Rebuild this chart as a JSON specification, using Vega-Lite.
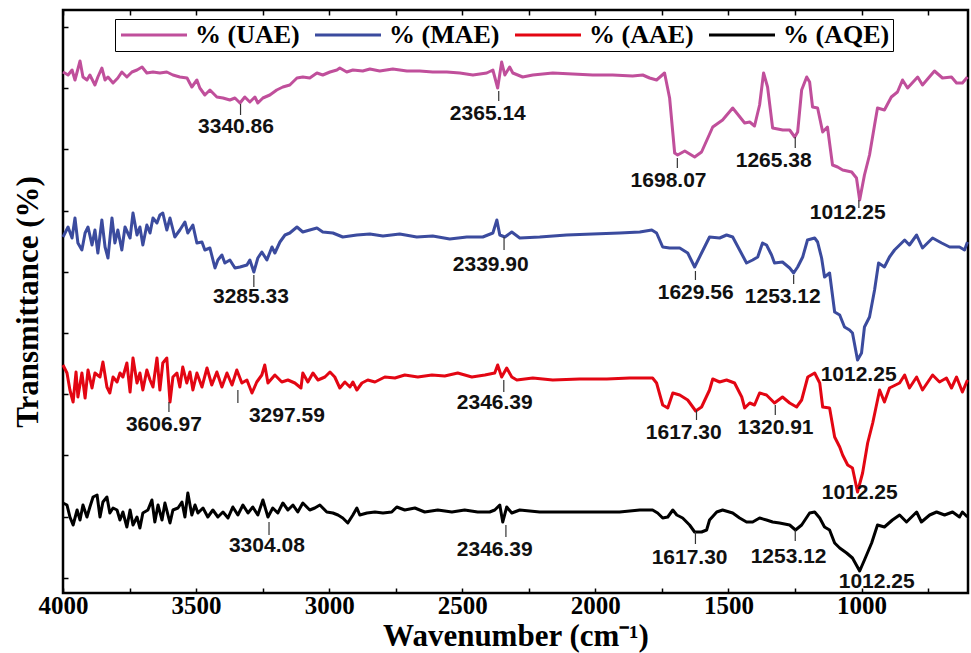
{
"$schema": "https://vega.github.io/schema/vega-lite/v6.json",
"width": 905, "height": 583,
"autosize": {"type": "none"},
"padding": {"left": 63, "top": 10, "right": 3, "bottom": 60},
"background": "white",
"config": {"view": {"stroke": "black", "strokeWidth": 2.5}, "axis": {"grid": false, "domain": false}},
"datasets": {
"spectra": [
{"sample":"UAE","wn":4000,"T":521},{"sample":"UAE","wn":3981,"T":518},{"sample":"UAE","wn":3966,"T":523},{"sample":"UAE","wn":3955,"T":513},{"sample":"UAE","wn":3936,"T":532},{"sample":"UAE","wn":3925,"T":516},{"sample":"UAE","wn":3910,"T":513},{"sample":"UAE","wn":3899,"T":518},{"sample":"UAE","wn":3880,"T":508},{"sample":"UAE","wn":3869,"T":516},{"sample":"UAE","wn":3854,"T":525},{"sample":"UAE","wn":3842,"T":513},{"sample":"UAE","wn":3831,"T":516},{"sample":"UAE","wn":3812,"T":510},{"sample":"UAE","wn":3794,"T":515},{"sample":"UAE","wn":3779,"T":521},{"sample":"UAE","wn":3760,"T":516},{"sample":"UAE","wn":3741,"T":521},{"sample":"UAE","wn":3722,"T":523},{"sample":"UAE","wn":3703,"T":526},{"sample":"UAE","wn":3685,"T":520},{"sample":"UAE","wn":3662,"T":521},{"sample":"UAE","wn":3636,"T":520},{"sample":"UAE","wn":3610,"T":521},{"sample":"UAE","wn":3587,"T":518},{"sample":"UAE","wn":3561,"T":516},{"sample":"UAE","wn":3534,"T":515},{"sample":"UAE","wn":3516,"T":506},{"sample":"UAE","wn":3497,"T":513},{"sample":"UAE","wn":3486,"T":505},{"sample":"UAE","wn":3467,"T":498},{"sample":"UAE","wn":3448,"T":503},{"sample":"UAE","wn":3422,"T":496},{"sample":"UAE","wn":3399,"T":495},{"sample":"UAE","wn":3373,"T":493},{"sample":"UAE","wn":3354,"T":495},{"sample":"UAE","wn":3335,"T":490},{"sample":"UAE","wn":3317,"T":496},{"sample":"UAE","wn":3298,"T":491},{"sample":"UAE","wn":3279,"T":496},{"sample":"UAE","wn":3268,"T":490},{"sample":"UAE","wn":3249,"T":495},{"sample":"UAE","wn":3223,"T":498},{"sample":"UAE","wn":3197,"T":503},{"sample":"UAE","wn":3174,"T":506},{"sample":"UAE","wn":3148,"T":508},{"sample":"UAE","wn":3121,"T":515},{"sample":"UAE","wn":3099,"T":516},{"sample":"UAE","wn":3073,"T":515},{"sample":"UAE","wn":3046,"T":520},{"sample":"UAE","wn":3024,"T":518},{"sample":"UAE","wn":2997,"T":521},{"sample":"UAE","wn":2971,"T":523},{"sample":"UAE","wn":2960,"T":525},{"sample":"UAE","wn":2934,"T":521},{"sample":"UAE","wn":2911,"T":523},{"sample":"UAE","wn":2874,"T":522},{"sample":"UAE","wn":2847,"T":524},{"sample":"UAE","wn":2810,"T":522},{"sample":"UAE","wn":2761,"T":524},{"sample":"UAE","wn":2708,"T":522},{"sample":"UAE","wn":2660,"T":522},{"sample":"UAE","wn":2611,"T":521},{"sample":"UAE","wn":2558,"T":521},{"sample":"UAE","wn":2509,"T":520},{"sample":"UAE","wn":2460,"T":518},{"sample":"UAE","wn":2408,"T":520},{"sample":"UAE","wn":2385,"T":523},{"sample":"UAE","wn":2367,"T":505},{"sample":"UAE","wn":2352,"T":531},{"sample":"UAE","wn":2340,"T":518},{"sample":"UAE","wn":2322,"T":526},{"sample":"UAE","wn":2310,"T":520},{"sample":"UAE","wn":2273,"T":516},{"sample":"UAE","wn":2235,"T":518},{"sample":"UAE","wn":2160,"T":520},{"sample":"UAE","wn":2085,"T":519},{"sample":"UAE","wn":2010,"T":518},{"sample":"UAE","wn":1935,"T":518},{"sample":"UAE","wn":1860,"T":517},{"sample":"UAE","wn":1822,"T":518},{"sample":"UAE","wn":1796,"T":515},{"sample":"UAE","wn":1770,"T":513},{"sample":"UAE","wn":1740,"T":520},{"sample":"UAE","wn":1721,"T":495},{"sample":"UAE","wn":1702,"T":440},{"sample":"UAE","wn":1691,"T":438},{"sample":"UAE","wn":1664,"T":442},{"sample":"UAE","wn":1627,"T":436},{"sample":"UAE","wn":1601,"T":441},{"sample":"UAE","wn":1559,"T":466},{"sample":"UAE","wn":1522,"T":473},{"sample":"UAE","wn":1484,"T":485},{"sample":"UAE","wn":1439,"T":470},{"sample":"UAE","wn":1420,"T":471},{"sample":"UAE","wn":1402,"T":467},{"sample":"UAE","wn":1383,"T":488},{"sample":"UAE","wn":1368,"T":520},{"sample":"UAE","wn":1353,"T":506},{"sample":"UAE","wn":1334,"T":465},{"sample":"UAE","wn":1296,"T":463},{"sample":"UAE","wn":1270,"T":463},{"sample":"UAE","wn":1251,"T":456},{"sample":"UAE","wn":1240,"T":461},{"sample":"UAE","wn":1225,"T":503},{"sample":"UAE","wn":1206,"T":516},{"sample":"UAE","wn":1195,"T":511},{"sample":"UAE","wn":1184,"T":486},{"sample":"UAE","wn":1165,"T":485},{"sample":"UAE","wn":1146,"T":461},{"sample":"UAE","wn":1128,"T":466},{"sample":"UAE","wn":1109,"T":428},{"sample":"UAE","wn":1090,"T":426},{"sample":"UAE","wn":1071,"T":423},{"sample":"UAE","wn":1037,"T":421},{"sample":"UAE","wn":1019,"T":415},{"sample":"UAE","wn":1007,"T":393},{"sample":"UAE","wn":989,"T":418},{"sample":"UAE","wn":970,"T":438},{"sample":"UAE","wn":951,"T":468},{"sample":"UAE","wn":940,"T":485},{"sample":"UAE","wn":914,"T":483},{"sample":"UAE","wn":888,"T":496},{"sample":"UAE","wn":865,"T":501},{"sample":"UAE","wn":846,"T":513},{"sample":"UAE","wn":827,"T":505},{"sample":"UAE","wn":789,"T":516},{"sample":"UAE","wn":771,"T":508},{"sample":"UAE","wn":726,"T":522},{"sample":"UAE","wn":696,"T":515},{"sample":"UAE","wn":662,"T":516},{"sample":"UAE","wn":643,"T":510},{"sample":"UAE","wn":621,"T":510},{"sample":"UAE","wn":602,"T":516},
{"sample":"MAE","wn":4000,"T":356},{"sample":"MAE","wn":3981,"T":366},{"sample":"MAE","wn":3966,"T":355},{"sample":"MAE","wn":3955,"T":375},{"sample":"MAE","wn":3944,"T":350},{"sample":"MAE","wn":3929,"T":343},{"sample":"MAE","wn":3917,"T":360},{"sample":"MAE","wn":3906,"T":366},{"sample":"MAE","wn":3891,"T":348},{"sample":"MAE","wn":3880,"T":363},{"sample":"MAE","wn":3869,"T":340},{"sample":"MAE","wn":3854,"T":373},{"sample":"MAE","wn":3842,"T":346},{"sample":"MAE","wn":3831,"T":335},{"sample":"MAE","wn":3816,"T":375},{"sample":"MAE","wn":3805,"T":350},{"sample":"MAE","wn":3794,"T":363},{"sample":"MAE","wn":3779,"T":343},{"sample":"MAE","wn":3767,"T":366},{"sample":"MAE","wn":3748,"T":355},{"sample":"MAE","wn":3737,"T":380},{"sample":"MAE","wn":3722,"T":358},{"sample":"MAE","wn":3711,"T":366},{"sample":"MAE","wn":3700,"T":348},{"sample":"MAE","wn":3685,"T":368},{"sample":"MAE","wn":3673,"T":360},{"sample":"MAE","wn":3662,"T":375},{"sample":"MAE","wn":3647,"T":370},{"sample":"MAE","wn":3636,"T":378},{"sample":"MAE","wn":3625,"T":380},{"sample":"MAE","wn":3610,"T":363},{"sample":"MAE","wn":3598,"T":375},{"sample":"MAE","wn":3580,"T":356},{"sample":"MAE","wn":3561,"T":363},{"sample":"MAE","wn":3542,"T":371},{"sample":"MAE","wn":3531,"T":360},{"sample":"MAE","wn":3512,"T":368},{"sample":"MAE","wn":3497,"T":350},{"sample":"MAE","wn":3478,"T":351},{"sample":"MAE","wn":3467,"T":343},{"sample":"MAE","wn":3448,"T":345},{"sample":"MAE","wn":3429,"T":325},{"sample":"MAE","wn":3418,"T":333},{"sample":"MAE","wn":3403,"T":338},{"sample":"MAE","wn":3392,"T":330},{"sample":"MAE","wn":3373,"T":333},{"sample":"MAE","wn":3354,"T":325},{"sample":"MAE","wn":3335,"T":326},{"sample":"MAE","wn":3309,"T":328},{"sample":"MAE","wn":3298,"T":333},{"sample":"MAE","wn":3283,"T":321},{"sample":"MAE","wn":3268,"T":335},{"sample":"MAE","wn":3253,"T":341},{"sample":"MAE","wn":3234,"T":333},{"sample":"MAE","wn":3215,"T":346},{"sample":"MAE","wn":3204,"T":340},{"sample":"MAE","wn":3185,"T":351},{"sample":"MAE","wn":3166,"T":358},{"sample":"MAE","wn":3148,"T":360},{"sample":"MAE","wn":3121,"T":366},{"sample":"MAE","wn":3099,"T":361},{"sample":"MAE","wn":3073,"T":363},{"sample":"MAE","wn":3046,"T":365},{"sample":"MAE","wn":3024,"T":361},{"sample":"MAE","wn":2986,"T":360},{"sample":"MAE","wn":2949,"T":356},{"sample":"MAE","wn":2896,"T":358},{"sample":"MAE","wn":2847,"T":359},{"sample":"MAE","wn":2798,"T":357},{"sample":"MAE","wn":2735,"T":359},{"sample":"MAE","wn":2671,"T":356},{"sample":"MAE","wn":2611,"T":357},{"sample":"MAE","wn":2547,"T":354},{"sample":"MAE","wn":2483,"T":356},{"sample":"MAE","wn":2423,"T":356},{"sample":"MAE","wn":2385,"T":360},{"sample":"MAE","wn":2370,"T":373},{"sample":"MAE","wn":2359,"T":358},{"sample":"MAE","wn":2340,"T":356},{"sample":"MAE","wn":2314,"T":361},{"sample":"MAE","wn":2284,"T":355},{"sample":"MAE","wn":2209,"T":356},{"sample":"MAE","wn":2108,"T":358},{"sample":"MAE","wn":2010,"T":359},{"sample":"MAE","wn":1909,"T":360},{"sample":"MAE","wn":1833,"T":361},{"sample":"MAE","wn":1788,"T":363},{"sample":"MAE","wn":1770,"T":360},{"sample":"MAE","wn":1747,"T":346},{"sample":"MAE","wn":1721,"T":345},{"sample":"MAE","wn":1683,"T":345},{"sample":"MAE","wn":1653,"T":340},{"sample":"MAE","wn":1627,"T":326},{"sample":"MAE","wn":1601,"T":340},{"sample":"MAE","wn":1571,"T":356},{"sample":"MAE","wn":1533,"T":355},{"sample":"MAE","wn":1507,"T":358},{"sample":"MAE","wn":1484,"T":356},{"sample":"MAE","wn":1458,"T":343},{"sample":"MAE","wn":1432,"T":330},{"sample":"MAE","wn":1409,"T":333},{"sample":"MAE","wn":1390,"T":336},{"sample":"MAE","wn":1372,"T":350},{"sample":"MAE","wn":1357,"T":348},{"sample":"MAE","wn":1338,"T":338},{"sample":"MAE","wn":1327,"T":330},{"sample":"MAE","wn":1297,"T":331},{"sample":"MAE","wn":1270,"T":325},{"sample":"MAE","wn":1255,"T":320},{"sample":"MAE","wn":1240,"T":326},{"sample":"MAE","wn":1221,"T":336},{"sample":"MAE","wn":1203,"T":353},{"sample":"MAE","wn":1176,"T":355},{"sample":"MAE","wn":1165,"T":351},{"sample":"MAE","wn":1150,"T":335},{"sample":"MAE","wn":1139,"T":316},{"sample":"MAE","wn":1120,"T":320},{"sample":"MAE","wn":1101,"T":281},{"sample":"MAE","wn":1082,"T":278},{"sample":"MAE","wn":1064,"T":266},{"sample":"MAE","wn":1045,"T":263},{"sample":"MAE","wn":1034,"T":260},{"sample":"MAE","wn":1015,"T":233},{"sample":"MAE","wn":1000,"T":240},{"sample":"MAE","wn":989,"T":266},{"sample":"MAE","wn":970,"T":276},{"sample":"MAE","wn":951,"T":303},{"sample":"MAE","wn":936,"T":330},{"sample":"MAE","wn":914,"T":326},{"sample":"MAE","wn":895,"T":336},{"sample":"MAE","wn":876,"T":343},{"sample":"MAE","wn":838,"T":353},{"sample":"MAE","wn":820,"T":348},{"sample":"MAE","wn":793,"T":358},{"sample":"MAE","wn":771,"T":345},{"sample":"MAE","wn":733,"T":355},{"sample":"MAE","wn":699,"T":350},{"sample":"MAE","wn":669,"T":346},{"sample":"MAE","wn":632,"T":346},{"sample":"MAE","wn":613,"T":343},{"sample":"MAE","wn":602,"T":351},
{"sample":"AAE","wn":4000,"T":228},{"sample":"AAE","wn":3985,"T":220},{"sample":"AAE","wn":3974,"T":203},{"sample":"AAE","wn":3962,"T":191},{"sample":"AAE","wn":3951,"T":221},{"sample":"AAE","wn":3944,"T":196},{"sample":"AAE","wn":3929,"T":220},{"sample":"AAE","wn":3917,"T":195},{"sample":"AAE","wn":3906,"T":223},{"sample":"AAE","wn":3891,"T":205},{"sample":"AAE","wn":3880,"T":220},{"sample":"AAE","wn":3861,"T":216},{"sample":"AAE","wn":3850,"T":231},{"sample":"AAE","wn":3835,"T":206},{"sample":"AAE","wn":3824,"T":200},{"sample":"AAE","wn":3812,"T":216},{"sample":"AAE","wn":3797,"T":211},{"sample":"AAE","wn":3786,"T":220},{"sample":"AAE","wn":3775,"T":216},{"sample":"AAE","wn":3760,"T":230},{"sample":"AAE","wn":3748,"T":201},{"sample":"AAE","wn":3737,"T":235},{"sample":"AAE","wn":3722,"T":210},{"sample":"AAE","wn":3711,"T":220},{"sample":"AAE","wn":3700,"T":203},{"sample":"AAE","wn":3685,"T":223},{"sample":"AAE","wn":3673,"T":213},{"sample":"AAE","wn":3662,"T":206},{"sample":"AAE","wn":3647,"T":235},{"sample":"AAE","wn":3636,"T":203},{"sample":"AAE","wn":3625,"T":230},{"sample":"AAE","wn":3610,"T":235},{"sample":"AAE","wn":3598,"T":191},{"sample":"AAE","wn":3587,"T":216},{"sample":"AAE","wn":3572,"T":220},{"sample":"AAE","wn":3561,"T":206},{"sample":"AAE","wn":3550,"T":226},{"sample":"AAE","wn":3535,"T":210},{"sample":"AAE","wn":3523,"T":221},{"sample":"AAE","wn":3512,"T":203},{"sample":"AAE","wn":3497,"T":220},{"sample":"AAE","wn":3478,"T":206},{"sample":"AAE","wn":3459,"T":225},{"sample":"AAE","wn":3441,"T":208},{"sample":"AAE","wn":3422,"T":221},{"sample":"AAE","wn":3403,"T":206},{"sample":"AAE","wn":3384,"T":220},{"sample":"AAE","wn":3365,"T":208},{"sample":"AAE","wn":3347,"T":223},{"sample":"AAE","wn":3328,"T":210},{"sample":"AAE","wn":3309,"T":213},{"sample":"AAE","wn":3290,"T":200},{"sample":"AAE","wn":3272,"T":211},{"sample":"AAE","wn":3253,"T":218},{"sample":"AAE","wn":3242,"T":228},{"sample":"AAE","wn":3230,"T":210},{"sample":"AAE","wn":3204,"T":218},{"sample":"AAE","wn":3178,"T":211},{"sample":"AAE","wn":3155,"T":213},{"sample":"AAE","wn":3129,"T":210},{"sample":"AAE","wn":3106,"T":205},{"sample":"AAE","wn":3099,"T":220},{"sample":"AAE","wn":3080,"T":211},{"sample":"AAE","wn":3061,"T":220},{"sample":"AAE","wn":3042,"T":213},{"sample":"AAE","wn":3016,"T":216},{"sample":"AAE","wn":2997,"T":221},{"sample":"AAE","wn":2979,"T":216},{"sample":"AAE","wn":2960,"T":205},{"sample":"AAE","wn":2941,"T":211},{"sample":"AAE","wn":2922,"T":206},{"sample":"AAE","wn":2911,"T":211},{"sample":"AAE","wn":2896,"T":203},{"sample":"AAE","wn":2877,"T":210},{"sample":"AAE","wn":2855,"T":213},{"sample":"AAE","wn":2828,"T":211},{"sample":"AAE","wn":2791,"T":216},{"sample":"AAE","wn":2753,"T":215},{"sample":"AAE","wn":2716,"T":218},{"sample":"AAE","wn":2667,"T":216},{"sample":"AAE","wn":2614,"T":218},{"sample":"AAE","wn":2566,"T":217},{"sample":"AAE","wn":2517,"T":220},{"sample":"AAE","wn":2464,"T":216},{"sample":"AAE","wn":2415,"T":218},{"sample":"AAE","wn":2378,"T":220},{"sample":"AAE","wn":2367,"T":228},{"sample":"AAE","wn":2352,"T":216},{"sample":"AAE","wn":2333,"T":225},{"sample":"AAE","wn":2314,"T":216},{"sample":"AAE","wn":2295,"T":213},{"sample":"AAE","wn":2235,"T":215},{"sample":"AAE","wn":2160,"T":213},{"sample":"AAE","wn":2059,"T":214},{"sample":"AAE","wn":1957,"T":214},{"sample":"AAE","wn":1871,"T":215},{"sample":"AAE","wn":1785,"T":215},{"sample":"AAE","wn":1770,"T":210},{"sample":"AAE","wn":1747,"T":188},{"sample":"AAE","wn":1728,"T":185},{"sample":"AAE","wn":1709,"T":200},{"sample":"AAE","wn":1683,"T":198},{"sample":"AAE","wn":1653,"T":193},{"sample":"AAE","wn":1623,"T":182},{"sample":"AAE","wn":1601,"T":186},{"sample":"AAE","wn":1571,"T":203},{"sample":"AAE","wn":1559,"T":214},{"sample":"AAE","wn":1533,"T":211},{"sample":"AAE","wn":1507,"T":213},{"sample":"AAE","wn":1477,"T":210},{"sample":"AAE","wn":1450,"T":196},{"sample":"AAE","wn":1439,"T":185},{"sample":"AAE","wn":1420,"T":190},{"sample":"AAE","wn":1402,"T":188},{"sample":"AAE","wn":1383,"T":200},{"sample":"AAE","wn":1357,"T":198},{"sample":"AAE","wn":1327,"T":190},{"sample":"AAE","wn":1297,"T":196},{"sample":"AAE","wn":1270,"T":190},{"sample":"AAE","wn":1244,"T":186},{"sample":"AAE","wn":1225,"T":193},{"sample":"AAE","wn":1202,"T":216},{"sample":"AAE","wn":1176,"T":220},{"sample":"AAE","wn":1157,"T":210},{"sample":"AAE","wn":1146,"T":186},{"sample":"AAE","wn":1120,"T":185},{"sample":"AAE","wn":1101,"T":156},{"sample":"AAE","wn":1082,"T":146},{"sample":"AAE","wn":1071,"T":138},{"sample":"AAE","wn":1052,"T":128},{"sample":"AAE","wn":1034,"T":125},{"sample":"AAE","wn":1015,"T":101},{"sample":"AAE","wn":996,"T":120},{"sample":"AAE","wn":977,"T":150},{"sample":"AAE","wn":958,"T":170},{"sample":"AAE","wn":932,"T":203},{"sample":"AAE","wn":914,"T":191},{"sample":"AAE","wn":895,"T":205},{"sample":"AAE","wn":857,"T":210},{"sample":"AAE","wn":838,"T":218},{"sample":"AAE","wn":820,"T":205},{"sample":"AAE","wn":793,"T":216},{"sample":"AAE","wn":771,"T":203},{"sample":"AAE","wn":733,"T":218},{"sample":"AAE","wn":707,"T":211},{"sample":"AAE","wn":681,"T":215},{"sample":"AAE","wn":662,"T":205},{"sample":"AAE","wn":643,"T":216},{"sample":"AAE","wn":621,"T":201},{"sample":"AAE","wn":602,"T":213},
{"sample":"AQE","wn":4000,"T":90},{"sample":"AQE","wn":3985,"T":88},{"sample":"AQE","wn":3974,"T":76},{"sample":"AQE","wn":3962,"T":68},{"sample":"AQE","wn":3947,"T":83},{"sample":"AQE","wn":3936,"T":73},{"sample":"AQE","wn":3925,"T":88},{"sample":"AQE","wn":3910,"T":76},{"sample":"AQE","wn":3899,"T":86},{"sample":"AQE","wn":3887,"T":96},{"sample":"AQE","wn":3872,"T":98},{"sample":"AQE","wn":3861,"T":76},{"sample":"AQE","wn":3850,"T":91},{"sample":"AQE","wn":3835,"T":96},{"sample":"AQE","wn":3824,"T":80},{"sample":"AQE","wn":3812,"T":85},{"sample":"AQE","wn":3797,"T":83},{"sample":"AQE","wn":3786,"T":73},{"sample":"AQE","wn":3775,"T":81},{"sample":"AQE","wn":3760,"T":66},{"sample":"AQE","wn":3748,"T":83},{"sample":"AQE","wn":3737,"T":68},{"sample":"AQE","wn":3722,"T":76},{"sample":"AQE","wn":3711,"T":65},{"sample":"AQE","wn":3700,"T":80},{"sample":"AQE","wn":3681,"T":83},{"sample":"AQE","wn":3666,"T":93},{"sample":"AQE","wn":3655,"T":71},{"sample":"AQE","wn":3643,"T":88},{"sample":"AQE","wn":3628,"T":73},{"sample":"AQE","wn":3617,"T":90},{"sample":"AQE","wn":3598,"T":70},{"sample":"AQE","wn":3587,"T":83},{"sample":"AQE","wn":3568,"T":85},{"sample":"AQE","wn":3553,"T":91},{"sample":"AQE","wn":3542,"T":76},{"sample":"AQE","wn":3531,"T":100},{"sample":"AQE","wn":3516,"T":78},{"sample":"AQE","wn":3504,"T":88},{"sample":"AQE","wn":3493,"T":80},{"sample":"AQE","wn":3474,"T":85},{"sample":"AQE","wn":3456,"T":76},{"sample":"AQE","wn":3437,"T":83},{"sample":"AQE","wn":3418,"T":76},{"sample":"AQE","wn":3399,"T":81},{"sample":"AQE","wn":3380,"T":75},{"sample":"AQE","wn":3362,"T":86},{"sample":"AQE","wn":3343,"T":78},{"sample":"AQE","wn":3324,"T":88},{"sample":"AQE","wn":3305,"T":80},{"sample":"AQE","wn":3287,"T":86},{"sample":"AQE","wn":3268,"T":78},{"sample":"AQE","wn":3249,"T":93},{"sample":"AQE","wn":3230,"T":76},{"sample":"AQE","wn":3212,"T":85},{"sample":"AQE","wn":3193,"T":80},{"sample":"AQE","wn":3174,"T":90},{"sample":"AQE","wn":3155,"T":83},{"sample":"AQE","wn":3136,"T":88},{"sample":"AQE","wn":3118,"T":81},{"sample":"AQE","wn":3099,"T":90},{"sample":"AQE","wn":3073,"T":83},{"sample":"AQE","wn":3054,"T":85},{"sample":"AQE","wn":3035,"T":88},{"sample":"AQE","wn":3009,"T":81},{"sample":"AQE","wn":2986,"T":80},{"sample":"AQE","wn":2967,"T":78},{"sample":"AQE","wn":2949,"T":75},{"sample":"AQE","wn":2930,"T":70},{"sample":"AQE","wn":2911,"T":78},{"sample":"AQE","wn":2896,"T":85},{"sample":"AQE","wn":2885,"T":78},{"sample":"AQE","wn":2858,"T":80},{"sample":"AQE","wn":2828,"T":81},{"sample":"AQE","wn":2798,"T":80},{"sample":"AQE","wn":2765,"T":81},{"sample":"AQE","wn":2746,"T":86},{"sample":"AQE","wn":2716,"T":83},{"sample":"AQE","wn":2678,"T":85},{"sample":"AQE","wn":2641,"T":81},{"sample":"AQE","wn":2592,"T":83},{"sample":"AQE","wn":2539,"T":81},{"sample":"AQE","wn":2491,"T":83},{"sample":"AQE","wn":2442,"T":81},{"sample":"AQE","wn":2397,"T":81},{"sample":"AQE","wn":2378,"T":83},{"sample":"AQE","wn":2359,"T":88},{"sample":"AQE","wn":2348,"T":71},{"sample":"AQE","wn":2333,"T":86},{"sample":"AQE","wn":2314,"T":80},{"sample":"AQE","wn":2284,"T":83},{"sample":"AQE","wn":2209,"T":81},{"sample":"AQE","wn":2108,"T":81},{"sample":"AQE","wn":2010,"T":81},{"sample":"AQE","wn":1909,"T":81},{"sample":"AQE","wn":1833,"T":83},{"sample":"AQE","wn":1785,"T":83},{"sample":"AQE","wn":1766,"T":80},{"sample":"AQE","wn":1747,"T":75},{"sample":"AQE","wn":1728,"T":76},{"sample":"AQE","wn":1709,"T":83},{"sample":"AQE","wn":1694,"T":78},{"sample":"AQE","wn":1672,"T":75},{"sample":"AQE","wn":1646,"T":68},{"sample":"AQE","wn":1627,"T":61},{"sample":"AQE","wn":1601,"T":61},{"sample":"AQE","wn":1582,"T":63},{"sample":"AQE","wn":1571,"T":73},{"sample":"AQE","wn":1544,"T":81},{"sample":"AQE","wn":1522,"T":83},{"sample":"AQE","wn":1484,"T":80},{"sample":"AQE","wn":1458,"T":75},{"sample":"AQE","wn":1432,"T":71},{"sample":"AQE","wn":1409,"T":71},{"sample":"AQE","wn":1383,"T":75},{"sample":"AQE","wn":1357,"T":73},{"sample":"AQE","wn":1334,"T":71},{"sample":"AQE","wn":1308,"T":70},{"sample":"AQE","wn":1270,"T":68},{"sample":"AQE","wn":1248,"T":63},{"sample":"AQE","wn":1225,"T":68},{"sample":"AQE","wn":1195,"T":80},{"sample":"AQE","wn":1176,"T":81},{"sample":"AQE","wn":1157,"T":75},{"sample":"AQE","wn":1139,"T":66},{"sample":"AQE","wn":1120,"T":63},{"sample":"AQE","wn":1101,"T":50},{"sample":"AQE","wn":1082,"T":45},{"sample":"AQE","wn":1056,"T":40},{"sample":"AQE","wn":1034,"T":35},{"sample":"AQE","wn":1007,"T":22},{"sample":"AQE","wn":989,"T":33},{"sample":"AQE","wn":962,"T":50},{"sample":"AQE","wn":940,"T":68},{"sample":"AQE","wn":914,"T":66},{"sample":"AQE","wn":884,"T":73},{"sample":"AQE","wn":857,"T":78},{"sample":"AQE","wn":831,"T":71},{"sample":"AQE","wn":793,"T":81},{"sample":"AQE","wn":775,"T":71},{"sample":"AQE","wn":744,"T":78},{"sample":"AQE","wn":718,"T":81},{"sample":"AQE","wn":688,"T":78},{"sample":"AQE","wn":658,"T":81},{"sample":"AQE","wn":632,"T":76},{"sample":"AQE","wn":621,"T":81},{"sample":"AQE","wn":602,"T":76}
],
"peaks": [
{"sample":"UAE","wn":3333,"y1":489,"y2":478,"lx":3350,"ly":466,"label":"3340.86"},
{"sample":"UAE","wn":2363,"y1":502,"y2":492,"lx":2404,"ly":479,"label":"2365.14"},
{"sample":"UAE","wn":1692,"y1":435,"y2":425,"lx":1725,"ly":412,"label":"1698.07"},
{"sample":"UAE","wn":1249,"y1":456,"y2":445,"lx":1330,"ly":432,"label":"1265.38"},
{"sample":"UAE","wn":1010,"y1":393,"y2":385,"lx":1052,"ly":380,"label":"1012.25"},
{"sample":"MAE","wn":3283,"y1":318,"y2":306,"lx":3294,"ly":296,"label":"3285.33"},
{"sample":"MAE","wn":2343,"y1":356,"y2":343,"lx":2393,"ly":328,"label":"2339.90"},
{"sample":"MAE","wn":1624,"y1":322,"y2":313,"lx":1623,"ly":300,"label":"1629.56"},
{"sample":"MAE","wn":1255,"y1":318,"y2":309,"lx":1296,"ly":296,"label":"1253.12"},
{"sample":"MAE","wn":null,"y1":null,"y2":null,"lx":1011,"ly":218,"label":"1012.25"},
{"sample":"AAE","wn":3602,"y1":191,"y2":181,"lx":3621,"ly":168,"label":"3606.97"},
{"sample":"AAE","wn":3343,"y1":203,"y2":190,"lx":3159,"ly":177,"label":"3297.59"},
{"sample":"AAE","wn":2344,"y1":213,"y2":201,"lx":2378,"ly":190,"label":"2346.39"},
{"sample":"AAE","wn":1620,"y1":183,"y2":173,"lx":1668,"ly":160,"label":"1617.30"},
{"sample":"AAE","wn":1324,"y1":188,"y2":178,"lx":1323,"ly":165,"label":"1320.91"},
{"sample":"AAE","wn":null,"y1":null,"y2":null,"lx":1007,"ly":100,"label":"1012.25"},
{"sample":"AQE","wn":3226,"y1":71,"y2":58,"lx":3234,"ly":47,"label":"3304.08"},
{"sample":"AQE","wn":2336,"y1":68,"y2":56,"lx":2378,"ly":43,"label":"2346.39"},
{"sample":"AQE","wn":1624,"y1":61,"y2":49,"lx":1646,"ly":35,"label":"1617.30"},
{"sample":"AQE","wn":1249,"y1":63,"y2":52,"lx":1274,"ly":36,"label":"1253.12"},
{"sample":"AQE","wn":null,"y1":null,"y2":null,"lx":943,"ly":11,"label":"1012.25"}
]
},
"layer": [
{
"data": {"name": "spectra"},
"mark": {"type": "line", "strokeWidth": 3, "strokeJoin": "round"},
"encoding": {
"x": {"field": "wn", "type": "quantitative",
 "scale": {"domain": [600, 4000], "reverse": true, "nice": false, "zero": false},
 "axis": {"orient": "bottom", "title": "Wavenumber (cm⁻¹)",
  "values": [4000,3750,3500,3250,3000,2750,2500,2250,2000,1750,1500,1250,1000,750],
  "labelExpr": "datum.value % 500 === 0 ? datum.label : ''", "format": "d",
  "tickSize": -5, "tickColor": "black", "tickWidth": 1.5,
  "labelFont": "Liberation Serif", "labelFontWeight": "bold", "labelFontSize": 25, "labelColor": "black", "labelPadding": 5, "labelFlush": false,
  "titleFont": "Liberation Serif", "titleFontWeight": "bold", "titleFontSize": 31, "titleColor": "black", "titlePadding": 3}},
"y": {"field": "T", "type": "quantitative",
 "scale": {"domain": [0, 583], "nice": false, "zero": false},
 "axis": {"title": "Transmittance (%)", "labels": false,
  "values": [15.3,30.6,45.9,61.2,76.5,91.8,107.1,122.4,137.7,153,168.3,183.6,198.9,214.2,229.5,244.8,260.1,275.4,290.7,306,321.3,336.6,351.9,367.2,382.5,397.8,413.1,428.4,443.7,459,474.3,489.6,504.9,520.2,535.5,550.8,566.1],
  "tickSize": -5, "tickColor": "black", "tickWidth": 1.5,
  "titleFont": "Liberation Serif", "titleFontWeight": "bold", "titleFontSize": 31, "titleColor": "black", "titlePadding": 18}},
"color": {"field": "sample", "type": "nominal",
 "scale": {"domain": ["UAE", "MAE", "AAE", "AQE"], "range": ["#C04F9B", "#3B4B9E", "#E30613", "#000000"]},
 "legend": {"orient": "none", "legendX": 52, "legendY": 9, "direction": "horizontal", "columns": 4, "title": null,
  "labelExpr": "'% (' + datum.label + ')'",
  "symbolType": "M-1,0H5.6", "symbolSize": 400, "symbolStrokeWidth": 3,
  "labelFont": "Liberation Serif", "labelFontWeight": "bold", "labelFontSize": 26, "labelColor": "black", "labelLimit": 0,
  "labelOffset": 51, "columnPadding": 9, "padding": 3, "strokeColor": "black", "fillColor": "white"}}
}
},
{
"data": {"name": "peaks"},
"mark": {"type": "rule", "color": "#333333", "strokeWidth": 1.2},
"encoding": {
"x": {"field": "wn", "type": "quantitative",
 "scale": {"domain": [600, 4000], "reverse": true, "nice": false, "zero": false},
 "axis": {"orient": "top", "labels": false, "title": null,
  "values": [4000,3750,3500,3250,3000,2750,2500,2250,2000,1750,1500,1250,1000,750],
  "tickSize": -5, "tickColor": "black", "tickWidth": 1.5}},
"y": {"field": "y1", "type": "quantitative", "title": "Transmittance (%)", "scale": {"domain": [0, 583], "nice": false, "zero": false}},
"y2": {"field": "y2"}
}
},
{
"data": {"name": "peaks"},
"mark": {"type": "text", "font": "Liberation Sans", "fontWeight": "bold", "fontSize": 21, "color": "#111111", "align": "center", "baseline": "middle"},
"encoding": {
"x": {"field": "lx", "type": "quantitative", "axis": null,
 "scale": {"domain": [600, 4000], "reverse": true, "nice": false, "zero": false}},
"y": {"field": "ly", "type": "quantitative", "title": "Transmittance (%)", "scale": {"domain": [0, 583], "nice": false, "zero": false}},
"text": {"field": "label"}
}
}
],
"resolve": {"axis": {"x": "independent"}}
}
